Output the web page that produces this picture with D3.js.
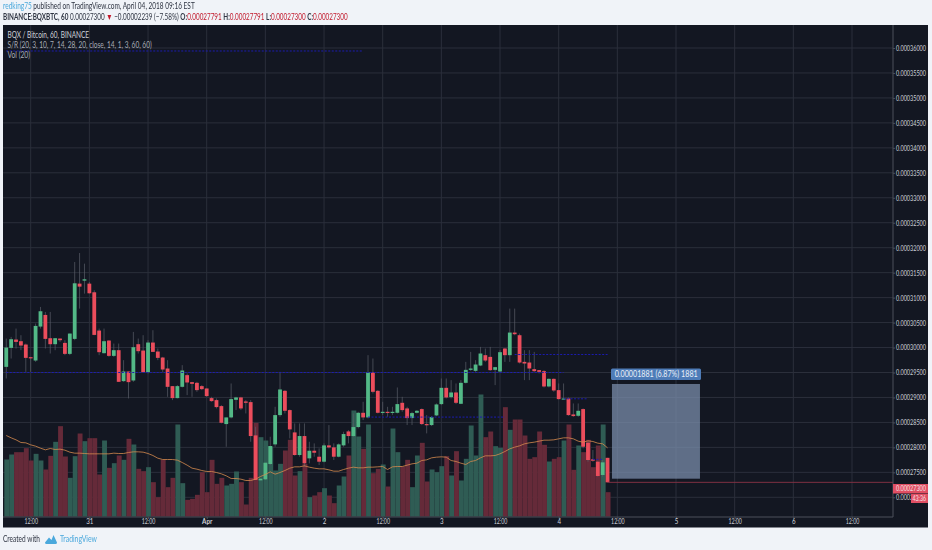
<!DOCTYPE html>
<html><head><meta charset="utf-8">
<script src="https://cdn.jsdelivr.net/npm/d3@7/dist/d3.min.js"></script>
<style>
html,body{margin:0;padding:0;background:#f0f3f8;overflow:hidden}
svg{display:block;filter:blur(0.3px)}
text{font-family:"Lato","Noto Sans",sans-serif}
</style></head><body><svg id="c" width="932" height="550"></svg>
<script>
// Prices in units of 1e-8 BTC, hourly candles
const open=[29613,29993,30160,30127,30060,29807,29740,30420,30653,30187,30067,30180,30093,29873,30173,31280,31340,31280,31107,30340,29887,30140,29833,29947,29327,29520,29340,30067,29940,29507,30100,29920,29800,29580,29227,28987,29213,29447,29307,29293,29227,29180,28987,28947,28827,28467,28600,28953,29000,28920,28907,28240,27340,27360,27667,28060,28647,29133,28747,28300,27847,28227,27780,27933,27813,27713,28040,28000,27813,28040,28320,28227,28407,28693,28600,29500,29133,28693,28713,28693,28693,28893,28780,28587,28693,28767,28467,28447,28640,28867,29193,29007,29100,28873,29293,29553,29533,29640,29847,29813,29553,29520,29980,29847,30300,30247,29713,29700,29567,29547,29527,29220,29373,29147,28967,28980,28660,28633,28767,28093,27760,27713,27447,27791];
const high=[30180,30213,30380,30247,30080,29813,30480,30813,30713,30713,30187,30180,30147,30280,31713,31893,31680,31313,31147,30380,30380,30147,30080,30080,29747,29520,30313,30180,30247,30147,30347,29980,29813,29747,29227,29247,29647,29480,29313,29313,29247,29180,29013,28980,28847,28600,29280,29013,29013,28947,28947,28413,27373,27693,28213,28813,29513,29147,28760,28480,28480,28480,28113,28080,27980,28080,28447,28080,28080,28313,28347,28680,28713,28913,29847,29780,29147,28913,28813,28813,29200,29013,28813,28713,28747,28780,28647,28627,28880,29380,29380,29347,29280,29347,29713,29913,29747,30013,29980,30013,29613,29947,29993,30780,30780,30280,29947,29947,29913,29547,29547,29380,29380,29280,29280,29000,28880,28880,28780,28113,27947,27727,27747,27791];
const low=[29380,29780,29980,29947,29513,29513,29713,30380,29980,29880,29947,30113,29847,29847,30147,30780,31080,31080,30247,29847,29880,29813,29813,29313,29313,28980,29313,29880,29507,29480,29913,29747,29513,29013,28947,28980,29200,29047,29013,29113,29147,29013,28913,28780,28480,28013,28580,28747,28747,28680,28113,27347,27340,27347,27647,28013,28613,28680,28180,27833,27813,27613,27680,27813,27647,27700,27980,27747,27800,28013,28080,28213,28380,28547,28580,29080,28680,28647,28613,28647,28680,28713,28447,28447,28680,28447,28280,28427,28627,28847,28980,28980,28867,28867,29280,29533,29513,29627,29713,29533,29247,29507,29713,29713,30247,29680,29347,29347,29513,29480,29200,29200,29113,28960,28960,28633,28613,28613,27980,27713,27713,27413,27413,27300];
const close=[30000,30167,30113,30040,29793,29787,30433,30727,30173,30067,30187,30147,29873,30280,31287,31220,31367,31087,30253,29907,30127,29833,29947,29313,29520,29307,30007,29927,29507,30100,29913,29793,29560,29213,28987,29227,29540,29300,29273,29147,29167,29027,28927,28807,28493,28600,28967,29000,28780,28893,28227,27347,27373,27693,28027,28647,29160,28733,28360,27847,28227,27680,27933,27893,27713,28040,28000,27813,28060,28267,28227,28407,28693,28600,29500,29113,28693,28713,28693,28713,28867,28747,28587,28687,28733,28467,28447,28607,28860,29193,29000,29100,28893,29293,29553,29580,29660,29880,29740,29547,29607,29907,29847,30300,30267,29700,29680,29580,29527,29513,29220,29373,29140,28967,28980,28647,28627,28733,28013,27747,27733,27427,27700,27300];
const volume=[171,186,193,193,205,168,188,168,141,182,224,271,180,116,181,249,226,235,235,126,228,146,160,183,170,233,216,143,136,148,103,58,170,88,116,276,100,50,53,65,133,73,170,98,116,93,98,135,103,36,116,281,238,228,210,138,158,198,230,123,136,158,58,63,73,85,63,40,93,120,183,318,240,203,276,130,143,156,90,264,193,150,170,88,183,221,105,141,133,151,181,123,196,108,173,273,183,366,238,255,211,206,328,260,291,291,243,173,178,255,215,165,173,178,228,276,140,213,193,230,148,213,276,73];
const volumeMA=[243,236,230,222,221,215,211,205,200,204,201,202,199,193,190,190,189,188,188,188,188,188,190,189,189,192,194,194,193,189,183,175,171,171,171,169,162,154,145,142,138,135,135,132,128,122,114,114,112,108,108,112,120,126,134,127,132,138,145,149,149,152,148,145,143,143,140,136,136,141,145,148,146,146,148,148,149,150,141,149,150,150,154,158,160,168,170,176,178,179,178,168,165,160,156,165,168,176,182,182,183,188,195,203,208,212,218,221,223,226,229,229,230,233,236,236,233,226,223,227,225,220,218,206];
// Support / resistance: level, first hour, last hour (hours from Mar 30 12:00)
const srLevels=[35940,29500,28607,29860,28973,27760];
const srFrom=[-5,-5,69,99,109,115];
const srTo=[68,109,97,118,114,117];
// Time axis
const xTickHours=[0,12,24,36,48,60,72,84,96,108,120,132,144,156,168];
const xTickLabels=["12:00","31","12:00","Apr","12:00","2","12:00","3","12:00","4","12:00","5","12:00","6","12:00"];
const firstHour=-5;
// Price ticks
const priceTicks=[27000,27500,28000,28500,29000,29500,30000,30500,31000,31500,32000,32500,33000,33500,34000,34500,35000,35500,36000];
// Long position tool
const toolPrice=[27373,29270];
const toolHours=[118.9,136.9];
const toolLabel="0.00001881 (6.87%) 1881";
const lastPrice=27300;

const svg=d3.select("#c");
const P={l:3,r:893,R:928,t:25,b:517,B:527.5};
const x=d3.scaleLinear().domain([0,168]).range([30.7,852]);
const y=d3.scaleLinear().domain([29500,36000]).range([372.5,48]);
const v=d3.scaleLinear().domain([0,1200]).range([516.5,116.5]);
const fmt=d=>(d/1e8).toFixed(8);
const hours=open.map((_,i)=>firstHour+i);
// Squeeze text horizontally to the width of the reference's condensed face
const fit=(t,w)=>{
 const n=t.node(),x0=+t.attr("x")||0,k=w/n.getComputedTextLength();
 return t.attr("x",0).attr("transform",`translate(${x0},0) scale(${k},1)`);
};

// Panel
svg.append("rect").attr("x",P.l).attr("y",P.t).attr("width",P.R-P.l).attr("height",P.B-P.t).attr("fill","#131722");

// Grid
const gridCol="#2b2f3b";
const g=svg.append("g");
g.selectAll(".gx").data(xTickHours).join("line").attr("x1",d=>x(d)).attr("x2",d=>x(d)).attr("y1",P.t).attr("y2",P.b).attr("stroke",gridCol).attr("stroke-width",1);
g.selectAll(".gy").data(priceTicks).join("line").attr("x1",P.l).attr("x2",P.r).attr("y1",d=>y(d)).attr("y2",d=>y(d)).attr("stroke",gridCol).attr("stroke-width",1);

// Volume
const up=i=>close[i]>=open[i];
const bw=4.89;
svg.append("g").selectAll("rect").data(volume).join("rect")
 .attr("x",(d,i)=>x(hours[i])-bw/2+0.5).attr("width",bw)
 .attr("y",d=>v(d)).attr("height",d=>v(0)-v(d))
 .attr("fill",(d,i)=>up(i)?"#2f5c54":"#652a39");

// Candles
const cg=svg.append("g");
cg.selectAll("line").data(hours).join("line")
 .attr("x1",d=>x(d)).attr("x2",d=>x(d))
 .attr("y1",(d,i)=>y(high[i])).attr("y2",(d,i)=>y(low[i]))
 .attr("stroke","#5a5e68").attr("stroke-width",0.7);
cg.selectAll("rect").data(hours).join("rect")
 .attr("x",d=>x(d)-1.9).attr("width",3.8)
 .attr("y",(d,i)=>Math.min(y(open[i]),y(close[i])))
 .attr("height",(d,i)=>Math.max(1.2,Math.abs(y(open[i])-y(close[i]))))
 .attr("fill",(d,i)=>up(i)?"#53b987":"#eb4d5c");

// Volume MA
svg.append("path").datum(volumeMA)
 .attr("d",d3.line().x((d,i)=>x(hours[i])).y(d=>v(d)))
 .attr("fill","none").attr("stroke","#d68a4e").attr("stroke-width",0.8);

// S/R
svg.append("g").selectAll("line").data(srLevels).join("line")
 .attr("x1",(d,i)=>x(srFrom[i])).attr("x2",(d,i)=>x(srTo[i]))
 .attr("y1",d=>y(d)).attr("y2",d=>y(d))
 .attr("stroke","#1c1cb0").attr("stroke-width",1).attr("stroke-dasharray","2,1.5");

// Position tool
const tx0=x(toolHours[0]),tx1=x(toolHours[1]);
svg.append("rect").attr("x",tx0).attr("width",tx1-tx0)
 .attr("y",y(toolPrice[1])).attr("height",y(toolPrice[0])-y(toolPrice[1]))
 .attr("fill","#7d90ae").attr("fill-opacity",0.72);
svg.append("rect").attr("x",611).attr("width",90).attr("y",368.5).attr("height",11.5).attr("rx",1.5).attr("fill","#4e7cb8");
fit(svg.append("text").attr("x",614.7).attr("y",377.2).attr("font-size",8.6).attr("fill","#e8eef7").text(toolLabel),83);

// Last price line
svg.append("line").attr("x1",x(hours[123])).attr("x2",P.r).attr("y1",y(lastPrice)).attr("y2",y(lastPrice)).attr("stroke","#7f3143").attr("stroke-width",1);

// Axes
const ya=d3.axisRight(y).tickValues(priceTicks).tickFormat(fmt).tickSize(2).tickPadding(1);
const yg=svg.append("g").attr("transform",`translate(${P.r},0)`).call(ya);
const xa=d3.axisBottom(x).tickValues(xTickHours).tickFormat((d,i)=>xTickLabels[i]).tickSize(2).tickPadding(0);
const xg=svg.append("g").attr("transform",`translate(0,${P.b})`).call(xa);
[yg,xg].forEach(s=>{
 s.selectAll("text").attr("font-size",7.6).attr("fill","#d0d3da").style("font-family","'Lato',sans-serif");
 s.selectAll("line").attr("stroke","#4c505b");
 s.select(".domain").remove();
});
yg.selectAll("text").each(function(){fit(d3.select(this),30);});
xg.selectAll("text").each(function(d,i){
 const lab=xTickLabels[i];
 fit(d3.select(this),lab==="12:00"?13.5:lab==="Apr"?10:lab.length*3.6);
});
xg.selectAll("text").filter(d=>d===36).attr("font-weight",700);
svg.append("line").attr("x1",P.r).attr("x2",P.r).attr("y1",P.t).attr("y2",P.b).attr("stroke","#4c505b");
svg.append("line").attr("x1",P.l).attr("x2",P.r).attr("y1",P.b).attr("y2",P.b).attr("stroke","#4c505b");

// Price and countdown labels
svg.append("rect").attr("x",893).attr("y",484).attr("width",35).attr("height",9.5).attr("fill","#e04f63");
fit(svg.append("text").attr("x",896).attr("y",491.5).attr("font-size",7.6).attr("fill","#f6e0e3").text(fmt(lastPrice)),30);
svg.append("rect").attr("x",911).attr("y",494).attr("width",17).attr("height",9).attr("fill","#e04f63");
fit(svg.append("text").attr("x",912.5).attr("y",501.2).attr("font-size",7.6).attr("fill","#f6e0e3").text("43:36"),13.5);

// Pane legend
[["BQX / Bitcoin, 60, BINANCE",38,"#d0d3da",81.5],["S/R (20, 3, 10, 7, 14, 28, 20, close, 14, 1, 3, 60, 60)",48,"#a9adb6",144.5],["Vol (20)",58.5,"#a9adb6",22.5]].forEach(t=>{
 fit(svg.append("text").attr("x",7.5).attr("y",t[1]).attr("font-size",8.6).attr("fill",t[2]).text(t[0]),t[3]);
});

// Header
const hdr=svg.append("text").attr("x",3).attr("y",9.5).attr("font-size",8.6).attr("fill","#2e3442");
hdr.append("tspan").attr("fill","#4aa8dc").text("redking75");
hdr.append("tspan").text(" published on TradingView.com, April 04, 2018 09:16 EST");
fit(hdr,192);
const h2=svg.append("text").attr("x",3).attr("y",20).attr("font-size",8.6).attr("fill","#2e3442");
h2.append("tspan").attr("font-weight",700).text("BINANCE:BQXBTC, 60");
h2.append("tspan").text(" 0.00027300 ");
h2.append("tspan").attr("fill","#c2182b").text("▼");
h2.append("tspan").text(" −0.00002239 (−7.58%) ");
[["O:","0.00027791 "],["H:","0.00027791 "],["L:","0.00027300 "],["C:","0.00027300"]].forEach(p=>{
 h2.append("tspan").attr("font-weight",700).text(p[0]);
 h2.append("tspan").attr("fill","#c2182b").text(p[1]);
});
fit(h2,345);

// Footer
fit(svg.append("text").attr("x",3).attr("y",542.5).attr("font-size",8.8).attr("fill","#2e3442").text("Created with"),37);
svg.append("path").attr("transform","translate(45,534.5)")
 .attr("d","M0 8 L4 3 L6.5 5.5 L8.5 0.5 L12 8 Q12 9.5 10.5 9.5 L1.5 9.5 Q0 9.5 0 8Z").attr("fill","#4aa8dc");
fit(svg.append("text").attr("x",60).attr("y",542.5).attr("font-size",8.8).attr("fill","#4aa8dc").text("TradingView"),37);
</script></body></html>
